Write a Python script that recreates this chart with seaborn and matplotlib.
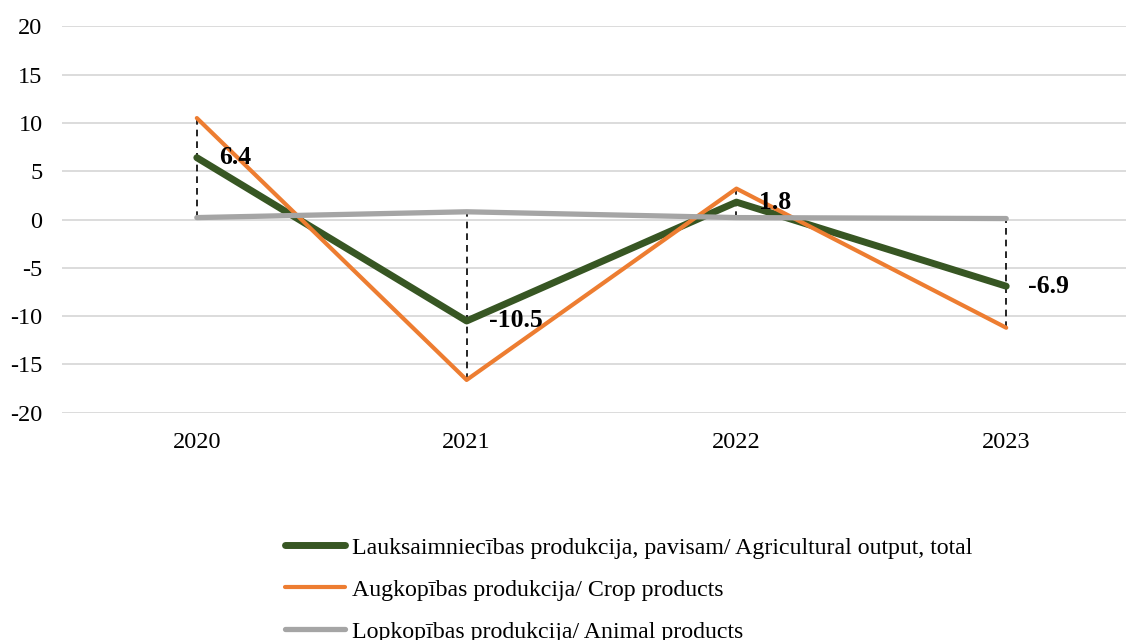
import matplotlib
matplotlib.use('Agg')
import matplotlib.pyplot as plt
import seaborn as sns
import pandas as pd

years = ['2020', '2021', '2022', '2023']
total = [6.4, -10.5, 1.8, -6.9]
crop = [10.5, -16.6, 3.2, -11.2]
animal = [0.2, 0.8, 0.2, 0.1]

names = ['Lauksaimniecības produkcija, pavisam/ Agricultural output, total',
         'Augkopības produkcija/ Crop products',
         'Lopkopības produkcija/ Animal products']
colors = ['#375623', '#ED7D31', '#A5A5A5']
widths = [5.0, 3.0, 3.8]

sns.set_theme(style="white")
plt.rcParams['font.family'] = ['Liberation Serif', 'DejaVu Serif']
plt.rcParams['axes.unicode_minus'] = False
plt.rcParams['text.color'] = 'black'
plt.rcParams['xtick.color'] = 'black'
plt.rcParams['ytick.color'] = 'black'

fig = plt.figure(figsize=(11.26, 6.4), dpi=100)
ax = fig.add_axes([0.055, 0.355, 0.945, 0.604])

# high-low drop lines between series
pos = list(range(len(years)))
hi = [max(a, b, c) for a, b, c in zip(total, crop, animal)]
lo = [min(a, b, c) for a, b, c in zip(total, crop, animal)]
ax.vlines(pos, lo, hi, colors='black', linestyles=(0, (4, 3)), linewidth=1.2, zorder=2)

series = [total, crop, animal]
for vals, name, col, lw in zip(series, names, colors, widths):
    df = pd.DataFrame({'pos': pos, 'value': vals})
    sns.lineplot(data=df, x='pos', y='value', color=col, linewidth=lw,
                 label=name, ax=ax, zorder=3, solid_capstyle='round',
                 solid_joinstyle='round')

# data labels for total
for p, v in zip(pos, total):
    ax.annotate(f"{v:.1f}", (p, v), xytext=(16, 0), textcoords='offset points',
                va='center', ha='left', fontsize=18.5, fontweight='bold', zorder=4)

ax.set_ylim(-20, 20)
ax.set_xlim(-0.5, 3.444)
ax.set_yticks(range(-20, 21, 5))
ax.set_xticks(pos)
ax.set_xticklabels(years)
ax.yaxis.grid(True, color='#D9D9D9', linewidth=1.3)
ax.xaxis.grid(False)
for s in ax.spines.values():
    s.set_visible(False)
ax.tick_params(axis='y', length=0, pad=14, labelsize=17.5)
ax.tick_params(axis='x', length=0, pad=14, labelsize=17.5)
ax.set_xlabel('')
ax.set_ylabel('')

ax.legend(loc='upper left', bbox_to_anchor=(0.253, 0.161), bbox_transform=fig.transFigure,
          frameon=False, fontsize=17.2, handlelength=2.5, handletextpad=0.3,
          labelspacing=0.85, borderpad=0, borderaxespad=0)

fig.savefig('out.png', dpi=100)
